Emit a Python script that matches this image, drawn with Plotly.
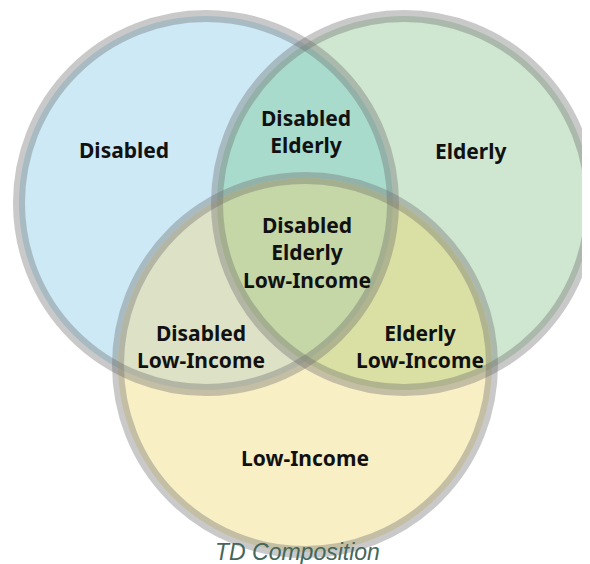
import numpy as np
import plotly.graph_objects as go

# ---- data ----
set_names = ["Disabled", "Elderly", "Low-Income"]
region_sets = [(0,), (1,), (2,), (0, 1), (0, 2), (1, 2), (0, 1, 2)]
region_labels = ["Disabled", "Elderly", "Low-Income",
                 "Disabled<br>Elderly", "Disabled<br>Low-Income",
                 "Elderly<br>Low-Income", "Disabled<br>Elderly<br>Low-Income"]
title_text = "TD Composition"

# ---- layout (pixel geometry) ----
W, H = 590, 564
OFF = 8  # page body margin compensation
centers = [(206, 203), (404, 203), (305, 365)]
R = 187
ring_w = 12
ring_color = "rgba(105,105,105,0.36)"
region_colors = {
    (0,): "#cde9f5", (1,): "#cfe7d1", (2,): "#f8efc5",
    (0, 1): "#a9dbcd", (0, 2): "#dde2c7", (1, 2): "#dae0a4",
    (0, 1, 2): "#c5d7a7",
}
label_pos = {
    (0,): (124, 150), (1,): (470, 151), (2,): (305, 458),
    (0, 1): (306, 131), (0, 2): (201, 346), (1, 2): (420, 346),
    (0, 1, 2): (307, 252),
}

fig = go.Figure()

shapes = []
for i, (cx, cy) in enumerate(centers):
    shapes.append(dict(type="circle", xref="x", yref="y", layer="below",
                       x0=cx - R, x1=cx + R, y0=cy - R, y1=cy + R,
                       fillcolor=region_colors[(i,)], line=dict(width=0)))


def region_polygon(idx):
    pts = []
    th = np.linspace(0, 2 * np.pi, 1440, endpoint=False)
    for i in idx:
        cx, cy = centers[i]
        px = cx + R * np.cos(th)
        py = cy + R * np.sin(th)
        ok = np.ones_like(px, dtype=bool)
        for j in idx:
            if j == i:
                continue
            ox, oy = centers[j]
            ok &= (px - ox) ** 2 + (py - oy) ** 2 <= R * R + 1e-6
        pts.append(np.column_stack([px[ok], py[ok]]))
    P = np.vstack(pts)
    m = P.mean(axis=0)
    ang = np.arctan2(P[:, 1] - m[1], P[:, 0] - m[0])
    return P[np.argsort(ang)]


for key in [(0, 1), (0, 2), (1, 2), (0, 1, 2)]:
    P = region_polygon(key)
    fig.add_trace(go.Scatter(x=np.append(P[:, 0], P[0, 0]), y=np.append(P[:, 1], P[0, 1]),
                             mode="lines", fill="toself", fillcolor=region_colors[key],
                             line=dict(width=0), hoverinfo="skip", showlegend=False))

for cx, cy in centers:
    shapes.append(dict(type="circle", xref="x", yref="y", layer="above",
                       x0=cx - R, x1=cx + R, y0=cy - R, y1=cy + R,
                       fillcolor="rgba(0,0,0,0)",
                       line=dict(width=ring_w, color=ring_color)))

annotations = []
for key, lab in zip(region_sets, region_labels):
    x, y = label_pos[key]
    txt = "<b>" + lab.replace("<br>", "</b><br><b>") + "</b>"
    annotations.append(dict(x=x, y=y, xref="x", yref="y", text=txt, showarrow=False,
                            xanchor="center", yanchor="middle", align="center",
                            font=dict(family="Noto Sans", size=21, color="#111111")))
annotations.append(dict(x=297, y=552, xref="x", yref="y", text="<i>" + title_text + "</i>",
                        showarrow=False, xanchor="center", yanchor="middle",
                        font=dict(family="Liberation Sans, Arial", size=23, color="#45665a")))

fig.update_layout(
    width=W, height=H, margin=dict(l=0, r=0, t=0, b=0),
    paper_bgcolor="white", plot_bgcolor="white",
    xaxis=dict(range=[OFF, W + OFF], visible=False, fixedrange=True),
    yaxis=dict(range=[H + OFF, OFF], visible=False, fixedrange=True),
    shapes=shapes, annotations=annotations, showlegend=False,
)

fig.write_html("out.html")
